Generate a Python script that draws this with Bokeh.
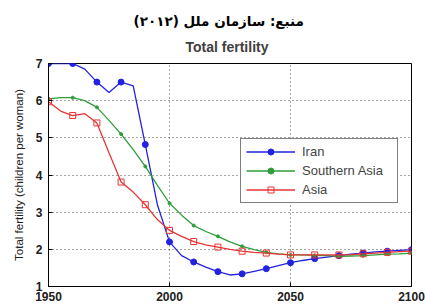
from bokeh.plotting import figure
from bokeh.models import Title, Legend, LegendItem, FixedTicker, Range1d
from bokeh.embed import file_html
from bokeh.resources import INLINE

years = list(range(1950, 2101, 5))
iran = [7.0, 7.0, 7.0, 6.85, 6.5, 6.22, 6.5, 6.4, 4.82, 3.2, 2.2, 1.83, 1.66, 1.52,
        1.4, 1.31, 1.34, 1.41, 1.48, 1.56, 1.64, 1.7, 1.75, 1.79, 1.83, 1.87, 1.9,
        1.93, 1.95, 1.97, 1.99]
southern_asia = [6.05, 6.08, 6.08, 6.0, 5.82, 5.47, 5.1, 4.68, 4.23, 3.72, 3.24, 2.92,
                 2.64, 2.48, 2.35, 2.2, 2.08, 1.99, 1.92, 1.88, 1.85, 1.85, 1.84, 1.83,
                 1.81, 1.82, 1.83, 1.85, 1.87, 1.88, 1.9]
asia = [5.97, 5.72, 5.6, 5.65, 5.4, 4.6, 3.81, 3.54, 3.2, 2.8, 2.51, 2.35, 2.21,
        2.12, 2.06, 2.0, 1.95, 1.92, 1.9, 1.87, 1.85, 1.85, 1.85, 1.85, 1.85, 1.86,
        1.88, 1.9, 1.92, 1.94, 1.95]
labels = ["Iran", "Southern Asia", "Asia"]
x_ticks = [1950, 2000, 2050, 2100]
y_ticks = [1, 2, 3, 4, 5, 6, 7]
source_title = "منبع: سازمان ملل (۲۰۱۲)"
chart_title = "Total fertility"

FONT = "Liberation Sans"

p = figure(width=425, height=305, x_range=Range1d(1950, 2100), y_range=Range1d(1, 7),
           output_backend="svg", toolbar_location=None,
           min_border_left=48, min_border_right=14, min_border_bottom=19, min_border_top=63,
           title=source_title)
p.title.align = "left"
p.title.offset = 85
p.title.text_font = "DejaVu Sans"
p.title.text_font_size = "13.5px"
p.title.text_font_style = "bold"
p.title.text_color = "black"
p.title.text_line_height = 1.0
p.title.standoff = 0
p.add_layout(Title(text=chart_title, align="left", offset=137, text_font=FONT,
                   text_font_size="14px", text_font_style="bold", text_color="#404040",
                   text_line_height=1.0, standoff=17), "above")

p.outline_line_color = "black"
p.outline_line_width = 1
p.background_fill_color = "white"

for ax in (p.xaxis, p.yaxis):
    ax.major_tick_in = 4
    ax.major_tick_out = 0
    ax.minor_tick_line_color = None
    ax.axis_line_color = "black"
    ax.major_label_text_font = FONT
    ax.major_label_text_font_size = "12px"
    ax.major_label_text_font_style = "bold"
    ax.major_label_text_color = "#202020"
p.xaxis.major_label_standoff = 5
p.yaxis.major_label_standoff = 6
p.xaxis.ticker = FixedTicker(ticks=x_ticks)
p.yaxis.ticker = FixedTicker(ticks=y_ticks)
p.yaxis.axis_label = "Total fertility (children per woman)"
p.yaxis.axis_label_text_font = FONT
p.yaxis.axis_label_text_font_size = "11.5px"
p.yaxis.axis_label_text_font_style = "normal"
p.yaxis.axis_label_text_color = "#202020"
p.yaxis.axis_label_standoff = 8

for g in (p.xgrid, p.ygrid):
    g.grid_line_color = "black"
    g.grid_line_dash = "1 3"
    g.grid_line_alpha = 0.7

dec = slice(0, None, 2)
c_iran, c_sa, c_asia = "#2222e0", "#2e9e3a", "#e83434"

l1 = p.line(years, iran, line_color=c_iran, line_width=1.3)
s1 = p.scatter(years[dec], iran[dec], marker="circle", size=6, fill_color=c_iran, line_color=c_iran)
l2 = p.line(years, southern_asia, line_color=c_sa, line_width=1.3)
s2 = p.scatter(years[dec], southern_asia[dec], marker="circle", size=3, fill_color=c_sa, line_color=c_sa)
l3 = p.line(years, asia, line_color=c_asia, line_width=1.3)
s3 = p.scatter(years[dec], asia[dec], marker="square", size=6, fill_color=None, line_color=c_asia)

legend = Legend(items=[LegendItem(label=labels[0], renderers=[l1, s1]),
                       LegendItem(label=labels[1], renderers=[l2, s2]),
                       LegendItem(label=labels[2], renderers=[l3, s3])],
                location=(192, 83), label_text_font=FONT, label_text_font_size="13px",
                glyph_width=49, glyph_height=15, spacing=4, padding=5, margin=0,
                label_standoff=7, label_width=90, label_height=15,
                border_line_color="black", border_line_width=1,
                background_fill_alpha=1.0)
p.add_layout(legend)

open("out.html", "w").write(file_html(p, INLINE))
